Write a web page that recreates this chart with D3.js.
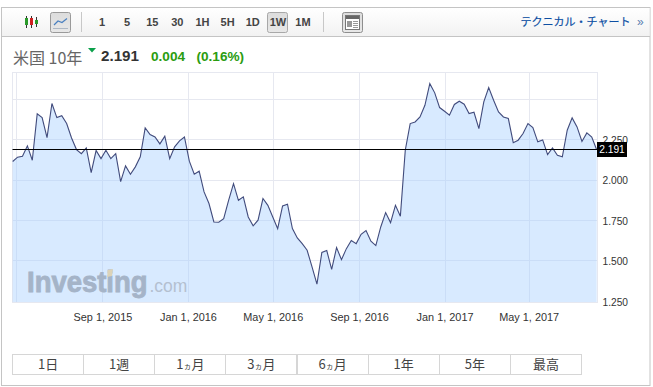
<!DOCTYPE html>
<html><head><meta charset="utf-8">
<script src="https://cdn.jsdelivr.net/npm/d3@7"></script>
<style>
html,body{margin:0;padding:0;background:#fff;overflow:hidden}
svg{display:block}
text{font-family:"Liberation Sans",Arial,sans-serif}
.jp{font-family:"Noto Sans CJK JP","Liberation Sans",sans-serif}
</style></head><body>
<svg id="c" width="653" height="387"></svg>
<script>
const firstWeek = "2015-04-26";
const yields = [
2.118,2.145,2.151,2.215,2.126,2.413,2.390,2.266,2.477,2.390,
2.402,2.353,2.264,2.192,2.167,2.202,2.050,2.186,2.136,2.188,
2.136,2.167,1.994,2.091,2.039,2.085,2.147,2.326,2.285,2.270,
2.227,2.275,2.136,2.209,2.246,2.270,2.120,2.039,2.058,1.930,
1.858,1.744,1.742,1.765,1.878,1.981,1.878,1.899,1.775,1.720,
1.755,1.889,1.847,1.775,1.703,1.843,1.854,1.703,1.645,1.610,
1.569,1.466,1.359,1.555,1.567,1.451,1.585,1.511,1.579,1.629,
1.610,1.668,1.691,1.625,1.598,1.713,1.802,1.740,1.847,1.779,
2.188,2.353,2.363,2.394,2.466,2.600,2.543,2.452,2.429,2.405,
2.471,2.491,2.473,2.415,2.423,2.322,2.487,2.576,2.497,2.425,
2.394,2.384,2.235,2.250,2.291,2.353,2.328,2.240,2.252,2.161,
2.202,2.157,2.147,2.312,2.388,2.332,2.242,2.295,2.270,2.191];
const lastPrice = 2.191;
const yTicks = [2.25,2.0,1.75,1.5,1.25];
const yGrid = [2.5,2.25,2.0,1.75,1.5];
const xTickDates = ["2015-09-01","2016-01-01","2016-05-01","2016-09-01","2017-01-01","2017-05-01"];
const xGridExtra = ["2015-05-01"];
const intervals = ["1","5","15","30","1H","5H","1D","1W","1M"];
const ranges = ["1日","1週","1ヵ月","3ヵ月","6ヵ月","1年","5年","最高"];

const svg = d3.select("#c");
const defs = svg.append("defs");
const grad = defs.append("linearGradient").attr("id","tb").attr("x1",0).attr("x2",0).attr("y1",0).attr("y2",1);
grad.append("stop").attr("offset",0).attr("stop-color","#ffffff");
grad.append("stop").attr("offset",1).attr("stop-color","#f2f2f2");
const bg = defs.append("linearGradient").attr("id","btn").attr("x1",0).attr("x2",0).attr("y1",0).attr("y2",1);
bg.append("stop").attr("offset",0).attr("stop-color","#dcdcdc");
bg.append("stop").attr("offset",1).attr("stop-color","#e8e8e8");

const pd = d3.utcParse("%Y-%m-%d");
const start = pd(firstWeek);
const dates = yields.map((_, i) => d3.utcWeek.offset(start, i));
const x = d3.scaleUtc().domain([dates[0], dates[dates.length-1]]).range([12.67, 596.67]);
const y = d3.scaleLinear().domain([1.25, 2.25]).range([301.8, 140.2]);
const L = 12.5, R = 597.5, T = 72.5, B = 302;

// outer frame + toolbar
svg.append("rect").attr("x",1.5).attr("y",7.5).attr("width",648.5).attr("height",378).attr("fill","#fff").attr("stroke","#c4c4c4");
svg.append("rect").attr("x",2).attr("y",8).attr("width",647.5).attr("height",28).attr("fill","url(#tb)");
svg.append("line").attr("x1",2).attr("x2",650).attr("y1",36.5).attr("y2",36.5).attr("stroke","#c4c4c4");
[81.5,323.5].forEach(v => svg.append("line").attr("x1",v).attr("x2",v).attr("y1",12).attr("y2",32).attr("stroke","#c8c8c8"));

// candlestick icon
[[26.5,"#2a9a2a",18,25,16,28],[31.5,"#d02020",18,25,16,28],[36.5,"#2a9a2a",20,24,17,27]].forEach(d=>{
  svg.append("line").attr("x1",d[0]).attr("x2",d[0]).attr("y1",d[4]).attr("y2",d[5]).attr("stroke","#333");
  svg.append("rect").attr("x",d[0]-1.5).attr("y",d[2]).attr("width",3).attr("height",d[3]-d[2]).attr("fill",d[1]);
});
// line chart button
svg.append("rect").attr("x",50.5).attr("y",12.5).attr("width",20).attr("height",20).attr("rx",2).attr("fill","url(#btn)").attr("stroke","#9a9a9a");
svg.append("path").attr("d","M54 25 L58 21 L62 22.5 L67 18.5").attr("fill","none").attr("stroke","#4a80c0").attr("stroke-width",1.2);
svg.append("line").attr("x1",53).attr("x2",68).attr("y1",28.5).attr("y2",28.5).attr("stroke","#aeb8c4");
// selected 1W
svg.append("rect").attr("x",267.5).attr("y",12.5).attr("width",20).attr("height",20).attr("rx",2).attr("fill","url(#btn)").attr("stroke","#a8a8a8");
const ix = d3.scalePoint().domain(intervals).range([102,303]);
svg.append("g").selectAll("text").data(intervals).join("text")
  .attr("x",d=>ix(d)).attr("y",26).attr("text-anchor","middle")
  .attr("font-size",11).attr("font-weight","bold").attr("fill","#444").text(d=>d);
// layout icon
svg.append("rect").attr("x",342.5).attr("y",12.5).attr("width",20).attr("height",20).attr("rx",2).attr("fill","url(#btn)").attr("stroke","#8e8e8e");
svg.append("rect").attr("x",345.5).attr("y",15.5).attr("width",14).attr("height",14).attr("fill","#fff").attr("stroke","#777");
svg.append("rect").attr("x",346).attr("y",16).attr("width",13).attr("height",3).attr("fill","#666");
svg.append("rect").attr("x",347).attr("y",21).attr("width",5).attr("height",6).attr("fill","#999");
[21.5,23.5,25.5,27.5].forEach(v=>svg.append("line").attr("x1",353).attr("x2",358).attr("y1",v).attr("y2",v).attr("stroke","#999"));
// technical chart link
svg.append("text").attr("class","jp").attr("x",520.5).attr("y",26).attr("font-size",11).attr("fill","#0d4fa3").attr("stroke","#0d4fa3").attr("stroke-width",.2).text("テクニカル・チャート");
svg.append("text").attr("x",637).attr("y",26).attr("font-size",12).attr("fill","#5a7fb0").text("»");

// headline
svg.append("text").attr("class","jp").attr("x",13).attr("y",64).attr("font-size",16).attr("fill","#666").text("米国 10年");
svg.append("path").attr("d","M88 48 H96 L92 52.5 Z").attr("fill","#0aa04a");
svg.append("text").attr("x",101).attr("y",60.5).attr("font-size",15.2).attr("font-weight","bold").attr("fill","#333").text("2.191");
svg.append("text").attr("x",151).attr("y",60.5).attr("font-size",13.6).attr("font-weight","bold").attr("fill","#2a9c10").text("0.004");
svg.append("text").attr("x",196.5).attr("y",60.5).attr("font-size",13.6).attr("font-weight","bold").attr("fill","#2a9c10").text("(0.16%)");

// grid
const gridCol = "#e6e8f0";
const grid = svg.append("g").attr("stroke",gridCol).attr("shape-rendering","crispEdges");
grid.append("rect").attr("x",L).attr("y",T).attr("width",R-L).attr("height",B-T).attr("fill","none");
grid.selectAll(".h").data(yGrid).join("line").attr("class","h")
  .attr("x1",L).attr("x2",R).attr("y1",d=>Math.round(y(d))-.5).attr("y2",d=>Math.round(y(d))-.5);
grid.selectAll(".v").data(xGridExtra.concat(xTickDates)).join("line").attr("class","v")
  .attr("y1",T).attr("y2",B).attr("x1",d=>Math.round(x(pd(d)))+.5).attr("x2",d=>Math.round(x(pd(d)))+.5);

// area + line
const area = d3.area().x((d,i)=>x(dates[i])).y0(B).y1(d=>y(d));
const line = d3.line().x((d,i)=>x(dates[i])).y(d=>y(d));
svg.append("path").datum(yields).attr("d",area).attr("fill","rgb(170,210,255)").attr("fill-opacity",.46);
svg.append("path").datum(yields).attr("d",line).attr("fill","none").attr("stroke","#414b7c").attr("stroke-width",1.1);

// watermark
const wm = svg.append("g");
wm.append("text").attr("transform","translate(27,291.5) scale(.915,1)").attr("font-size",30).attr("font-weight","bold")
  .attr("fill","#a5b4c8").attr("stroke","#a5b4c8").attr("stroke-width",.9).text("Investing");
wm.append("text").attr("x",149.5).attr("y",291.5).attr("font-size",17.5).attr("fill","#b4c0d0").text(".com");
wm.append("path").attr("d","M108 270 L113 269 L112 276 L107 277 Z").attr("fill","#dcd3b8");

// axes
const yAxis = d3.axisRight(y).tickValues(yTicks).tickFormat(d3.format(".3f")).tickSize(0).tickPadding(0);
const gy = svg.append("g").attr("transform","translate(602.5,0)").call(yAxis);
gy.select(".domain").remove();
gy.selectAll("text").attr("font-size",10.2).attr("fill","#333").attr("font-family",'"Liberation Sans",Arial,sans-serif');

const xAxis = d3.axisBottom(x).tickValues(xTickDates.map(pd)).tickFormat(d3.utcFormat("%b %-d, %Y")).tickSize(0).tickPadding(0);
const gx = svg.append("g").attr("transform","translate(0,313)").call(xAxis);
gx.select(".domain").remove();
gx.selectAll("text").attr("font-size",10.9).attr("fill","#333").attr("font-family",'"Liberation Sans",Arial,sans-serif');

// last price marker
svg.append("line").attr("x1",L).attr("x2",R).attr("y1",Math.round(y(lastPrice))-.5).attr("y2",Math.round(y(lastPrice))-.5).attr("stroke","#000");
svg.append("rect").attr("x",597).attr("y",142).attr("width",30).attr("height",15).attr("fill","#000");
svg.append("text").attr("x",612).attr("y",153).attr("text-anchor","middle").attr("font-size",10.2).attr("fill","#fff").text(lastPrice.toFixed(3));

// range buttons
const rb = d3.scaleBand().domain(ranges).range([12.5,581.5]);
const gr = svg.append("g");
gr.selectAll("rect").data(ranges).join("rect")
  .attr("x",d=>Math.round(rb(d)-.5)+.5).attr("y",354.5).attr("width",d=>Math.round(rb.bandwidth())).attr("height",20)
  .attr("fill","#fff").attr("stroke","#d6d6d6");
gr.selectAll("text").data(ranges).join("text").attr("class","jp")
  .attr("x",d=>rb(d)+rb.bandwidth()/2).attr("y",369).attr("text-anchor","middle")
  .attr("font-size",13).attr("fill","#444")
  .each(function(d){
    const t = d3.select(this);
    d.split(/(ヵ)/).filter(s=>s).forEach(s=>t.append("tspan").attr("font-size",s==="ヵ"?8:13).text(s));
  });
</script>
</body></html>
